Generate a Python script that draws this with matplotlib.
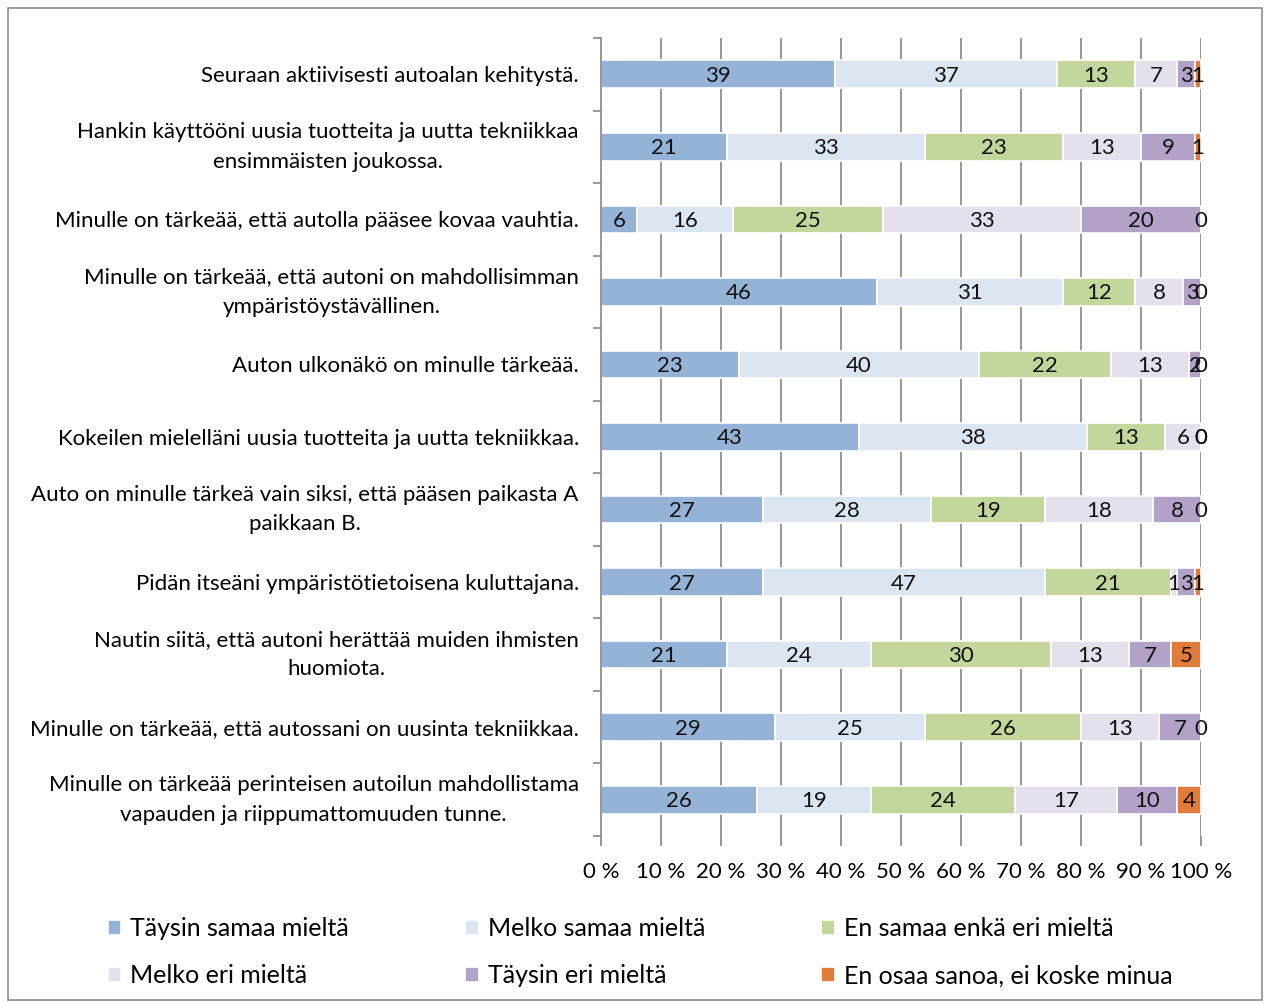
import matplotlib
matplotlib.use("Agg")
import matplotlib.pyplot as plt
from matplotlib.patches import Rectangle
import numpy as np

plt.rcParams['font.family'] = ['Lato', 'DejaVu Sans']

categories = [
    "Seuraan aktiivisesti autoalan kehitystä.",
    "Hankin käyttööni uusia tuotteita ja uutta tekniikkaa\nensimmäisten joukossa.",
    "Minulle on tärkeää, että autolla pääsee kovaa vauhtia.",
    "Minulle on tärkeää, että autoni on mahdollisimman\nympäristöystävällinen.",
    "Auton ulkonäkö on minulle tärkeää.",
    "Kokeilen mielelläni uusia tuotteita ja uutta tekniikkaa.",
    "Auto on minulle tärkeä vain siksi, että pääsen paikasta A\npaikkaan B.",
    "Pidän itseäni ympäristötietoisena kuluttajana.",
    "Nautin siitä, että autoni herättää muiden ihmisten\nhuomiota.",
    "Minulle on tärkeää, että autossani on uusinta tekniikkaa.",
    "Minulle on tärkeää perinteisen autoilun mahdollistama\nvapauden ja riippumattomuuden tunne.",
]
series_names = [
    "Täysin samaa mieltä",
    "Melko samaa mieltä",
    "En samaa enkä eri mieltä",
    "Melko eri mieltä",
    "Täysin eri mieltä",
    "En osaa sanoa, ei koske minua",
]
taysin_samaa = [39, 21, 6, 46, 23, 43, 27, 27, 21, 29, 26]
melko_samaa = [37, 33, 16, 31, 40, 38, 28, 47, 24, 25, 19]
ei_samaa_eika_eri = [13, 23, 25, 12, 22, 13, 19, 21, 30, 26, 24]
melko_eri = [7, 13, 33, 8, 13, 6, 18, 1, 13, 13, 17]
taysin_eri = [3, 9, 20, 3, 2, 0, 8, 3, 7, 7, 10]
en_osaa = [1, 1, 0, 0, 0, 0, 0, 1, 5, 0, 4]
x_ticklabels = ["0 %", "10 %", "20 %", "30 %", "40 %", "50 %", "60 %", "70 %", "80 %", "90 %", "100 %"]

colors = ["#95B3D7", "#DCE6F2", "#C3D69B", "#E6E0EC", "#B3A2C7", "#E07B39"]

W, H = 1269, 1006
fig = plt.figure(figsize=(W / 100, H / 100), dpi=100)
fig.patches.append(Rectangle((8 / W, 1 - 1000 / H), (1262 - 8) / W, (1000 - 8) / H,
                             transform=fig.transFigure, fill=False, edgecolor="#8C8C8C", lw=1.2))

ax = fig.add_axes([601 / W, 1 - 836 / H, 600 / W, (836 - 38) / H])

data = np.array([taysin_samaa, melko_samaa, ei_samaa_eika_eri, melko_eri, taysin_eri, en_osaa], dtype=float)
totals = data.sum(axis=0)
pct = data / totals * 100
n = len(categories)
y = np.arange(n)

ax.set_xlim(0, 100)
ax.set_ylim(n - 0.5, -0.5)
for xv in range(10, 101, 10):
    ax.axvline(xv, color="#868686", lw=1.2, zorder=0)

left = np.zeros(n)
for i in range(6):
    ax.barh(y, pct[i], left=left, height=0.38, color=colors[i], edgecolor="white", lw=1.2,
            label=series_names[i], zorder=2)
    for j in range(n):
        ax.text(left[j] + pct[i][j] / 2, y[j] + 0.02, f"{int(data[i][j])}", ha="center", va="center",
                fontsize=16, color="#111111", zorder=3)
    left = left + pct[i]

ax.set_yticks(y)
ax.set_yticklabels(categories, fontsize=16, multialignment="center", linespacing=1.6)
for lbl in ax.get_yticklabels():
    if "\n" in lbl.get_text():
        lbl.set_va("center")
ax.tick_params(axis="y", length=0, pad=16)
ax.set_yticks(np.arange(-0.5, n, 1), minor=True)
ax.tick_params(axis="y", which="minor", length=6, color="#868686", width=1.2)

ax.set_xticks(range(0, 101, 10))
ax.set_xticklabels(x_ticklabels, fontsize=16)
ax.tick_params(axis="x", length=7, color="#868686", width=1.2, pad=12)

for s in ["top", "right", "bottom"]:
    ax.spines[s].set_visible(False)
ax.spines["left"].set_color("#868686")
ax.spines["left"].set_linewidth(1.2)

handles, labels = ax.get_legend_handles_labels()
order = [0, 3, 1, 4, 2, 5]
leg = fig.legend([handles[k] for k in order], [labels[k] for k in order], ncol=3,
                 loc="upper left", bbox_to_anchor=(85 / W, 1 - 895 / H), frameon=False,
                 fontsize=18, handlelength=0.55, handleheight=0.55, handletextpad=0.35,
                 columnspacing=4.65, labelspacing=0.95)

fig.savefig("out.png", dpi=100)
